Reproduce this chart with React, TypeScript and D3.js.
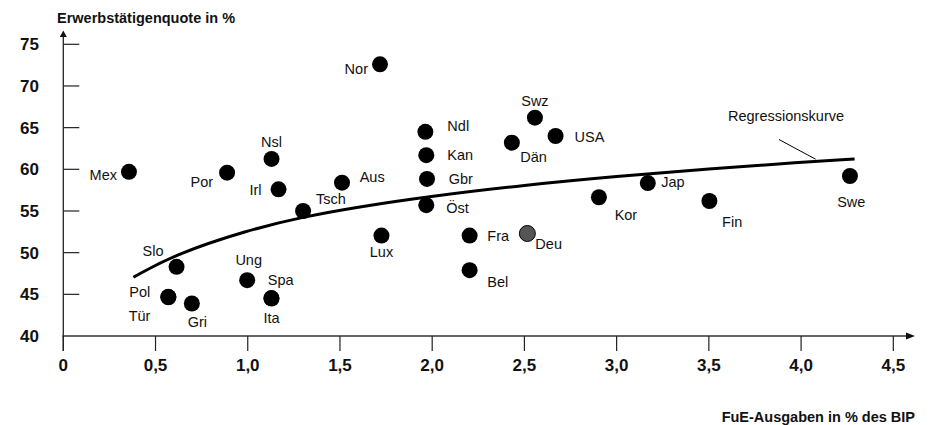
import React from "react";
import * as d3 from "d3";

// ---- data ----
const countries = ["Mex","Por","Nsl","Irl","Tsch","Slo","Pol","Tür","Gri","Ung","Spa","Ita","Nor","Ndl","Kan","Gbr","Öst","Aus","Swz","USA","Dän","Kor","Lux","Fra","Deu","Bel","Jap","Fin","Swe"];
const rdSpending = [0.356,0.888,1.129,1.167,1.30,0.614,0.569,0.57,0.697,0.997,1.128,1.129,1.717,1.963,1.968,1.972,1.968,1.511,2.557,2.669,2.432,2.904,1.725,2.203,2.516,2.203,3.169,3.503,4.265];
const employmentRate = [59.7,59.6,61.25,57.6,55.0,48.3,44.7,44.65,43.9,46.7,44.55,44.5,72.6,64.5,61.7,58.85,55.7,58.4,66.2,64.0,63.2,56.65,52.05,52.05,52.3,47.9,58.35,56.2,59.2];
const highlighted = ["Deu"];

// regression curve
const regressionX = [0.38,0.6,1.0,1.3,1.6,2.0,2.5,3.0,3.5,4.0,4.29];
const regressionY = [47.05,49.75,52.7,54.3,55.5,56.8,58.1,59.15,60.05,60.85,61.25];

const xTicks = [0,0.5,1.0,1.5,2.0,2.5,3.0,3.5,4.0,4.5];
const yTicks = [40,45,50,55,60,65,70,75];

const yTitle = "Erwerbstätigenquote in %";
const xTitle = "FuE-Ausgaben in % des BIP";
const curveLabel = "Regressionskurve";

// label placement (pixels relative to the dot)
const labelPlacement: Record<string, [number, number, string]> = {
  Mex: [-12, 8, "end"], Por: [-14, 14, "end"], Nsl: [0, -12, "middle"], Irl: [-17, 6, "end"],
  Tsch: [13, -7, "start"], Slo: [-13, -11, "end"], Pol: [-18, 0, "end"], "Tür": [-18, 23.5, "end"],
  Gri: [5.5, 24, "middle"], Ung: [1.5, -15, "middle"], Spa: [-3.5, -13.5, "start"], Ita: [0, 25, "middle"],
  Nor: [-12, 9.5, "end"], Ndl: [22, -0.5, "start"], Kan: [21, 4.7, "start"], Gbr: [21.7, 5.5, "start"],
  "Öst": [20, 8, "start"], Aus: [17.7, -0.5, "start"], Swz: [0, -12, "middle"], USA: [19, 6, "start"],
  "Dän": [8.4, 19, "start"], Kor: [15.7, 23, "start"], Lux: [0, 21.5, "middle"], Fra: [17.7, 5.5, "start"],
  Deu: [8, 16, "start"], Bel: [17.7, 16.5, "start"], Jap: [13.4, 4, "start"], Fin: [12.7, 26, "start"],
  Swe: [1.3, 31, "middle"],
};

const W = 932, H = 425;
const FONT = "'Liberation Sans', Arial, Helvetica, sans-serif";

export default function App() {
  const x = d3.scaleLinear().domain([0, 4.5]).range([63.3, 893.3]);
  const y = d3.scaleLinear().domain([40, 75]).range([336, 44.3]);
  const x0 = x(0), y0 = y(40);

  const line = d3.line<number>()
    .x((_, i) => x(regressionX[i]))
    .y((d) => y(d))
    .curve(d3.curveBasis);

  const pts = countries.map((c, i) => ({ c, xv: rdSpending[i], yv: employmentRate[i] }));
  const endX = regressionX[regressionX.length - 1];
  const endY = regressionY[regressionY.length - 1];
  const legendPt = [x(endX) - 39, y(endY) + 0.3];

  return (
    <svg width={W} height={H} style={{ position: "absolute", left: 0, top: 0, background: "#fff" }} fontFamily={FONT}>
      <rect width={W} height={H} fill="#fff" />
      {/* axes */}
      <line x1={x0} y1={y0 + 15} x2={x0} y2={36} stroke="#222" strokeWidth={1.3} />
      <path d={`M${x0 - 3.5},37 L${x0},30.5 L${x0 + 3.5},37 Z`} fill="#111" />
      <line x1={x0 - 1} y1={y0} x2={907} y2={y0} stroke="#333" strokeWidth={1.3} />
      <path d={`M906,${y0 - 3.5} L915,${y0} L906,${y0 + 3.5} Z`} fill="#111" />
      {xTicks.map((t) => (
        <g key={"xt" + t}>
          <line x1={x(t)} x2={x(t)} y1={y0} y2={y0 + 15} stroke="#222" strokeWidth={1.2} />
          <text x={x(t)} y={y0 + 35} textAnchor="middle" fontSize={17} fontWeight="bold" fill="#111">
            {t === 0 ? "0" : d3.format(".1f")(t).replace(".", ",")}
          </text>
        </g>
      ))}
      {yTicks.map((t) => (
        <g key={"yt" + t}>
          {t !== 40 && <line x1={x0} x2={x0 + 16} y1={y(t)} y2={y(t)} stroke="#222" strokeWidth={1.2} />}
          <text x={39} y={y(t) + 6} textAnchor="end" fontSize={17} fontWeight="bold" fill="#111">{t}</text>
        </g>
      ))}
      <text x={57} y={23} fontSize={14.5} fontWeight="bold" fill="#111">{yTitle}</text>
      <text x={915} y={422} fontSize={14.5} fontWeight="bold" textAnchor="end" fill="#111">{xTitle}</text>

      {/* regression curve */}
      <path d={line(regressionY) || ""} fill="none" stroke="#000" strokeWidth={3} />
      <line x1={779} y1={139.5} x2={legendPt[0]} y2={legendPt[1]} stroke="#000" strokeWidth={1} />
      <text x={728} y={120.5} fontSize={14.5} fill="#111">{curveLabel}</text>

      {/* points */}
      {pts.map((p) => (
        <circle key={"c" + p.c} cx={x(p.xv)} cy={y(p.yv)} r={8}
          fill={highlighted.includes(p.c) ? "#555" : "#000"} stroke="#000" strokeWidth={highlighted.includes(p.c) ? 1 : 0} />
      ))}
      {pts.map((p) => {
        const [dx, dy, anchor] = labelPlacement[p.c];
        return (
          <text key={"l" + p.c} x={x(p.xv) + dx} y={y(p.yv) + dy} textAnchor={anchor as any} fontSize={14.5} fill="#111">{p.c}</text>
        );
      })}
    </svg>
  );
}
